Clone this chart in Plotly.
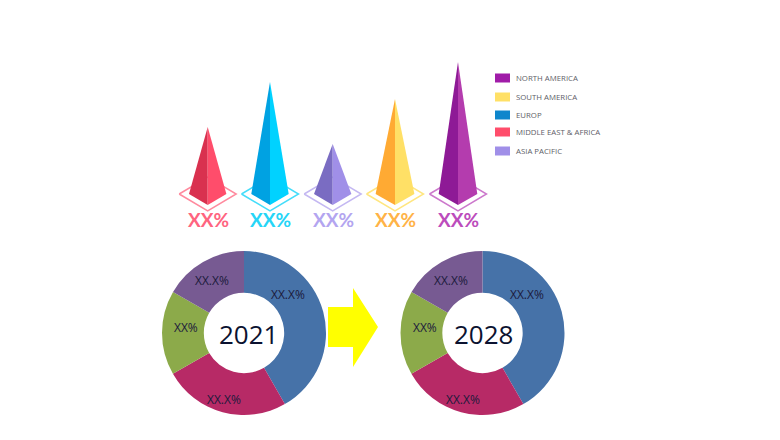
import plotly.graph_objects as go

# ---- data ----
pyramid_regions = ["MIDDLE EAST & AFRICA", "EUROP", "ASIA PACIFIC", "SOUTH AMERICA", "NORTH AMERICA"]
pyramid_heights = [78, 123, 61, 106, 143]
pyramid_labels = ["XX%", "XX%", "XX%", "XX%", "XX%"]
legend_regions = ["NORTH AMERICA", "SOUTH AMERICA", "EUROP", "MIDDLE EAST & AFRICA", "ASIA PACIFIC"]
donut_labels = ["XX.X%", "XX.X%", "XX%", "XX.X%"]
share_2021 = [41.7, 25.0, 16.65, 16.65]
share_2028 = [41.7, 25.0, 16.65, 16.65]
years = ["2021", "2028"]

# ---- styles ----
dark = ["#D9314F", "#00A2E2", "#7A6CC2", "#FFAA33", "#8E1A96"]
light = ["#FF4D6B", "#00D2FF", "#A08FE8", "#FFE066", "#B43CAE"]
ring = ["#FF8A9E", "#45DDFA", "#C4B8F2", "#FFE680", "#CC78CC"]
text_col = ["#FF6480", "#25D5F7", "#B3A5F0", "#FFB347", "#BC4CBC"]
legend_col = {"NORTH AMERICA": "#A01CA8", "SOUTH AMERICA": "#FFE066", "EUROP": "#0E86CC",
              "MIDDLE EAST & AFRICA": "#FF4D6B", "ASIA PACIFIC": "#A08FE8"}
donut_col = ["#4672A8", "#B72A66", "#8CAA4A", "#775A92"]
centers = [207.7, 270, 332.7, 395, 458]
base_y = 205
corner_y = 194
half_w = [18.7, 18.7, 18.7, 19.4, 19.3]
ring_hw, ring_hh = 28.5, 17

fig = go.Figure()

# pyramids
for i, (name, h) in enumerate(zip(pyramid_regions, pyramid_heights)):
    cx = centers[i]
    fig.add_trace(go.Scatter(
        x=[cx - ring_hw, cx, cx + ring_hw, cx, cx - ring_hw],
        y=[corner_y, corner_y - ring_hh, corner_y, corner_y + ring_hh, corner_y],
        mode="lines", line=dict(color=ring[i], width=1.5), hoverinfo="skip", showlegend=False))
    apex = base_y - h
    fig.add_trace(go.Scatter(
        x=[cx, cx - half_w[i], cx, cx], y=[apex, corner_y, base_y, apex],
        mode="lines", fill="toself", fillcolor=dark[i], line=dict(width=0),
        name=name, showlegend=False))
    fig.add_trace(go.Scatter(
        x=[cx, cx + half_w[i], cx, cx], y=[apex, corner_y, base_y, apex],
        mode="lines", fill="toself", fillcolor=light[i], line=dict(width=0),
        name=name, showlegend=False))
    fig.add_annotation(x=cx + 0.5, y=219, text=f"<b>{pyramid_labels[i]}</b>", showarrow=False,
                       font=dict(family="Lato", size=19, color=text_col[i]))

# legend
legend_y = [78, 97, 115, 132, 151]
for name, ly in zip(legend_regions, legend_y):
    fig.add_shape(type="rect", x0=495, x1=510, y0=ly - 4.5, y1=ly + 4.5,
                  fillcolor=legend_col[name], line=dict(width=0))
    fig.add_annotation(x=514, y=ly, text=name, showarrow=False, xanchor="left",
                       font=dict(family="Open Sans", size=7.8, color="#606068"))

# donuts
donut_cx = [244, 482.5]
year_dx = [4, 0.5]
donut_r = 82
donut_cy = 333
label_off = [(44, -39), (-20, 66), (-58, -6), (-32, -53)]
for share, cx, yr, ydx in zip([share_2021, share_2028], donut_cx, years, year_dx):
    fig.add_trace(go.Pie(
        values=share, labels=["A", "B", "C", "D"], sort=False, direction="clockwise", rotation=0,
        hole=0.49, textinfo="none", marker=dict(colors=donut_col, line=dict(width=0)),
        showlegend=False,
        domain=dict(x=[(cx - donut_r) / 780, (cx + donut_r) / 780],
                    y=[1 - (donut_cy + donut_r) / 440, 1 - (donut_cy - donut_r) / 440])))
    for lab, (dx, dy) in zip(donut_labels, label_off):
        fig.add_annotation(x=cx + dx, y=donut_cy + dy, text=lab, showarrow=False,
                           font=dict(family="Open Sans", size=12, color="#1C1A3C"))
    fig.add_annotation(x=cx + ydx, y=donut_cy + 1, text=yr, showarrow=False,
                       font=dict(family="Open Sans", size=26, color="#0B1230"))

# arrow
fig.add_shape(type="path", path="M328,307 L353,307 L353,288 L378,327 L353,367 L353,347 L328,347 Z",
              fillcolor="#FFFF00", line=dict(width=0))

fig.update_layout(
    width=780, height=440, margin=dict(l=0, r=0, t=0, b=0),
    paper_bgcolor="white", plot_bgcolor="white",
    xaxis=dict(range=[0, 780], visible=False, fixedrange=True),
    yaxis=dict(range=[440, 0], visible=False, fixedrange=True),
    showlegend=False,
)
fig.write_html("out.html", config={"displayModeBar": False},
               post_script="document.body.style.margin='0';")
